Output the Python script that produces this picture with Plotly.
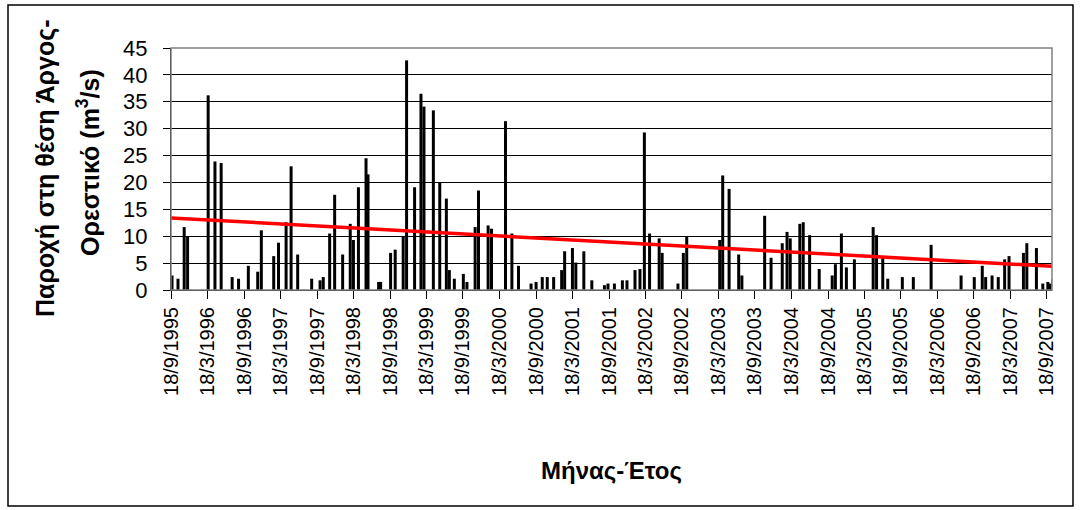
import plotly.graph_objects as go

# ---- data ----
dates = [
    "1995-09-23", "1995-10-23", "1995-11-23", "1995-12-10",
    "1996-03-22", "1996-04-25", "1996-05-26", "1996-07-20", "1996-08-21",
    "1996-10-09", "1996-11-25", "1996-12-13", "1997-02-13",
    "1997-03-09", "1997-04-16", "1997-05-11", "1997-06-13", "1997-08-22",
    "1997-10-03", "1997-10-19", "1997-11-20", "1997-12-15", "1998-01-24", "1998-03-03",
    "1998-03-19", "1998-04-13", "1998-05-21", "1998-05-31", "1998-07-23", "1998-08-02",
    "1998-09-21", "1998-10-14", "1998-11-23", "1998-12-10", "1999-01-19", "1999-02-20", "1999-03-07",
    "1999-04-23", "1999-05-25", "1999-06-27", "1999-07-12", "1999-08-06",
    "1999-09-20", "1999-10-08", "1999-11-18", "1999-12-05", "2000-01-22", "2000-02-08",
    "2000-04-18", "2000-05-20", "2000-06-22", "2000-08-24",
    "2000-09-18", "2000-10-19", "2000-11-13", "2000-12-15", "2001-01-24", "2001-02-08",
    "2001-03-19", "2001-04-05", "2001-05-15", "2001-06-24", "2001-08-26",
    "2001-09-13", "2001-10-15", "2001-11-24", "2001-12-17", "2002-01-26", "2002-02-20",
    "2002-03-14", "2002-04-09", "2002-05-27", "2002-06-11", "2002-08-29",
    "2002-09-25", "2002-10-12",
    "2003-03-26", "2003-04-10", "2003-05-12", "2003-06-29", "2003-07-15",
    "2003-11-06", "2003-12-08", "2004-02-02", "2004-02-26",
    "2004-03-13", "2004-04-30", "2004-05-17", "2004-06-18", "2004-08-05",
    "2004-10-09", "2004-10-25", "2004-11-24", "2004-12-19", "2005-01-28",
    "2005-05-02", "2005-05-19", "2005-06-19", "2005-07-14",
    "2005-09-25", "2005-11-19", "2006-02-16",
    "2006-07-16",
    "2006-09-20", "2006-10-30", "2006-11-16", "2006-12-18", "2007-01-18", "2007-02-19",
    "2007-03-13", "2007-05-24", "2007-06-10", "2007-07-28", "2007-08-29",
    "2007-09-23", "2007-10-04", "2007-10-19",
]
discharge = [
    2.7, 2.1, 11.7, 9.9,
    36.2, 23.9, 23.6, 2.4, 2.1,
    4.5, 3.4, 11.1, 6.3,
    8.8, 12.6, 23.0, 6.6, 2.1,
    1.8, 2.4, 10.5, 17.7, 6.6, 12.3,
    9.3, 19.1, 24.5, 21.5, 1.5, 1.5,
    6.9, 7.5, 9.9, 42.7, 19.1, 36.5, 34.1,
    33.4, 20.0, 17.0, 3.7, 2.1,
    3.0, 1.5, 11.7, 18.5, 12.0, 11.4,
    31.4, 10.5, 4.5, 1.2,
    1.5, 2.4, 2.4, 2.4, 3.7, 7.2,
    7.8, 5.1, 7.2, 1.8, 0.9,
    1.2, 1.2, 1.8, 1.8, 3.7, 3.9,
    29.3, 10.5, 9.6, 6.9, 1.2,
    6.9, 9.9,
    9.3, 21.3, 18.8, 6.6, 2.7,
    13.8, 6.0, 8.7, 10.8,
    9.6, 12.3, 12.6, 10.2, 3.9,
    2.7, 4.8, 10.5, 4.2, 5.7,
    11.7, 10.2, 6.0, 2.1,
    2.4, 2.4, 8.4,
    2.7,
    2.4, 4.5, 2.4, 2.7, 2.4, 5.7,
    6.3, 6.9, 8.7, 7.8, 1.2,
    1.5, 1.2, 2.1,
]

trend_dates = ["1995-09-18", "2007-10-14"]
trend_values = [13.4, 4.4]

tick_dates = [
    "1995-09-18", "1996-03-18", "1996-09-18", "1997-03-18", "1997-09-18",
    "1998-03-18", "1998-09-18", "1999-03-18", "1999-09-18", "2000-03-18",
    "2000-09-18", "2001-03-18", "2001-09-18", "2002-03-18", "2002-09-18",
    "2003-03-18", "2003-09-18", "2004-03-18", "2004-09-18", "2005-03-18",
    "2005-09-18", "2006-03-18", "2006-09-18", "2007-03-18", "2007-09-18",
]
tick_labels = [
    "18/9/1995", "18/3/1996", "18/9/1996", "18/3/1997", "18/9/1997",
    "18/3/1998", "18/9/1998", "18/3/1999", "18/9/1999", "18/3/2000",
    "18/9/2000", "18/3/2001", "18/9/2001", "18/3/2002", "18/9/2002",
    "18/3/2003", "18/9/2003", "18/3/2004", "18/9/2004", "18/3/2005",
    "18/9/2005", "18/3/2006", "18/9/2006", "18/3/2007", "18/9/2007",
]

FONT = "Arial, 'Liberation Sans', sans-serif"
DAY_MS = 86400000

fig = go.Figure()
fig.add_trace(go.Bar(
    x=dates, y=discharge,
    width=[15 * DAY_MS] * len(dates),
    marker=dict(color="black", line=dict(width=0)),
    showlegend=False,
))
fig.add_trace(go.Scatter(
    x=trend_dates, y=trend_values, mode="lines",
    line=dict(color="#FF0000", width=3.5),
    showlegend=False,
))

# plot area pixel geometry
L, R, T, B = 171, 1052, 48, 290
W, H = R - L, B - T

def px_x(p):
    return (p - L) / W

def px_y(p):
    return (B - p) / H

fig.update_layout(
    width=1080, height=510,
    margin=dict(l=L, r=1080 - R, t=T, b=510 - B),
    paper_bgcolor="white", plot_bgcolor="white",
    font=dict(family=FONT, color="black"),
    xaxis=dict(
        type="date",
        range=["1995-09-18", "2007-10-14"],
        tickmode="array", tickvals=tick_dates, ticktext=tick_labels,
        tickangle=-90, tickfont=dict(size=20, family=FONT, color="black"),
        ticks="outside", ticklen=8, tickcolor="black", tickwidth=1,
        showline=True, linecolor="black", linewidth=1,
        showgrid=False, zeroline=False,
    ),
    yaxis=dict(
        range=[0, 45], tick0=0, dtick=5,
        tickfont=dict(size=22, family=FONT, color="black"),
        ticks="outside", ticklen=7, tickcolor="black", tickwidth=1,
        ticklabelstandoff=11,
        showline=True, linecolor="black", linewidth=1,
        showgrid=True, gridcolor="black", gridwidth=1,
        zeroline=False,
    ),
    shapes=[
        # plot-area border (grey)
        dict(type="rect", xref="paper", yref="paper", x0=0, x1=1, y0=0, y1=1,
             line=dict(color="#808080", width=1.5), layer="above"),
        # outer chart border
        dict(type="rect", xref="paper", yref="paper",
             x0=px_x(8), x1=px_x(1073), y0=px_y(506), y1=px_y(5),
             line=dict(color="black", width=1.5), layer="above"),
    ],
    annotations=[
        dict(text="<b>Παροχή στη θέση Άργος-</b>", xref="paper", yref="paper",
             x=px_x(45), y=px_y(168), textangle=-90, showarrow=False,
             xanchor="center", yanchor="middle",
             font=dict(size=25, family=FONT, color="black")),
        dict(text="<b>Ορεστικό (m<sup>3</sup>/s)</b>", xref="paper", yref="paper",
             x=px_x(88), y=px_y(163), textangle=-90, showarrow=False,
             xanchor="center", yanchor="middle",
             font=dict(size=25, family=FONT, color="black")),
        dict(text="<b>Μήνας-Έτος</b>", xref="paper", yref="paper",
             x=px_x(611), y=px_y(470), showarrow=False,
             xanchor="center", yanchor="middle",
             font=dict(size=24, family=FONT, color="black")),
    ],
)

fig.write_html("out.html")
